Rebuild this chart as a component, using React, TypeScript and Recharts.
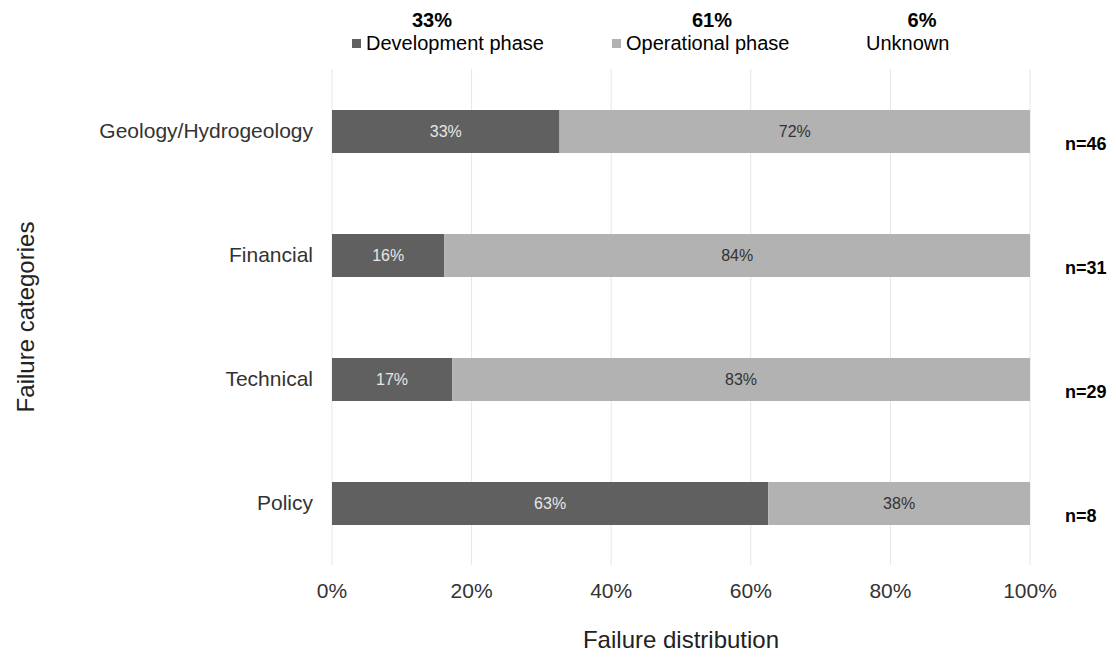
import React from "react";
import {
  BarChart,
  Bar,
  XAxis,
  YAxis,
  CartesianGrid,
  Legend,
  LabelList,
} from "recharts";

const categories = ["Geology/Hydrogeology", "Financial", "Technical", "Policy"];
const developmentValues = [32.6, 16.1, 17.2, 62.5];
const operationalValues = [67.4, 83.9, 82.8, 37.5];
const developmentLabels = ["33%", "16%", "17%", "63%"];
const operationalLabels = ["72%", "84%", "83%", "38%"];
const sampleSizes = ["n=46", "n=31", "n=29", "n=8"];
const xTicks = [0, 20, 40, 60, 80, 100];

const legendNames = ["Development phase", "Operational phase", "Unknown"];
const legendShares = ["33%", "61%", "6%"];

const DARK = "#606060";
const LIGHT = "#b2b2b2";
const FONT = "'Liberation Sans', Arial, sans-serif";
const LEGEND_H = 60;

const data = categories.map((c, i) => ({
  category: c,
  dev: developmentValues[i],
  op: operationalValues[i],
}));

// legend layout (chart coords)
const legendCols = [
  { pctX: 424, rowX: 344, color: DARK },
  { pctX: 704, rowX: 604, color: LIGHT },
  { pctX: 914, rowX: 858, color: null },
];

function TopLegend() {
  return (
    <div style={{ position: "relative", width: 1100, height: LEGEND_H, fontFamily: FONT }}>
      {legendNames.map((name, i) => {
        const col = legendCols[i];
        return (
          <React.Fragment key={name}>
            <div
              style={{
                position: "absolute",
                left: col.pctX - 40,
                width: 80,
                top: 0,
                textAlign: "center",
                fontWeight: "bold",
                fontSize: 20,
                color: "#000",
                lineHeight: "24px",
              }}
            >
              {legendShares[i]}
            </div>
            <div
              style={{
                position: "absolute",
                left: col.rowX,
                top: 23,
                display: "flex",
                alignItems: "center",
                fontSize: 20,
                color: "#000",
                lineHeight: "24px",
                whiteSpace: "nowrap",
              }}
            >
              {col.color && (
                <span
                  style={{
                    display: "inline-block",
                    width: 9,
                    height: 9,
                    background: col.color,
                    marginRight: 5,
                  }}
                />
              )}
              {name}
            </div>
          </React.Fragment>
        );
      })}
    </div>
  );
}

const makeInnerLabel = (labels: string[], fill: string) => (props: any) => {
  const { x, y, width, height, index } = props;
  return (
    <text
      x={x + width / 2}
      y={y + height / 2}
      textAnchor="middle"
      dominantBaseline="central"
      fontSize={16}
      fontFamily={FONT}
      fill={fill}
    >
      {labels[index]}
    </text>
  );
};

const SampleLabel = (props: any) => {
  const { x, y, width, height, index } = props;
  return (
    <text
      x={x + width + 35}
      y={y + height / 2 + 12}
      textAnchor="start"
      dominantBaseline="central"
      fontSize={18}
      fontWeight="bold"
      fontFamily={FONT}
      fill="#000"
    >
      {sampleSizes[index]}
    </text>
  );
};

const YTitle = (props: any) => {
  const { viewBox } = props;
  const cx = viewBox.x + 17;
  const cy = viewBox.y + viewBox.height / 2;
  return (
    <text
      x={cx}
      y={cy}
      transform={`rotate(-90, ${cx}, ${cy})`}
      textAnchor="middle"
      dominantBaseline="central"
      fontSize={24}
      fontFamily={FONT}
      fill="#222"
    >
      Failure categories
    </text>
  );
};

const XTitle = (props: any) => {
  const { viewBox } = props;
  return (
    <text
      x={viewBox.x + viewBox.width / 2}
      y={viewBox.y + 74}
      textAnchor="middle"
      dominantBaseline="central"
      fontSize={24}
      fontFamily={FONT}
      fill="#222"
    >
      Failure distribution
    </text>
  );
};

export default function App() {
  return (
    <div style={{ width: 1100, height: 643, fontFamily: FONT }}>
      <BarChart
        width={1100}
        height={643}
        data={data}
        layout="vertical"
        margin={{ top: 61 - LEGEND_H, right: 78, bottom: 0, left: 0 }}
        barSize={43}
      >
        <CartesianGrid horizontal={false} stroke="#e6e6e6" />
        <XAxis
          type="number"
          domain={[0, 100]}
          ticks={xTicks}
          tickFormatter={(v: number) => `${v}%`}
          axisLine={false}
          tickLine={false}
          tickSize={0}
          tickMargin={18}
          height={86}
          tick={{ fontSize: 21, fill: "#333", fontFamily: FONT }}
          label={<XTitle />}
        />
        <YAxis
          type="category"
          dataKey="category"
          width={324}
          axisLine={false}
          tickLine={false}
          tickSize={0}
          tickMargin={19}
          tick={{ fontSize: 21, fill: "#333", fontFamily: FONT }}
          label={<YTitle />}
        />
        <Legend
          verticalAlign="top"
          content={() => <TopLegend />}
          wrapperStyle={{ top: 0, left: 0, width: 1100 }}
        />
        <Bar dataKey="dev" stackId="a" fill={DARK} isAnimationActive={false}>
          <LabelList content={makeInnerLabel(developmentLabels, "#e6e6e6")} />
        </Bar>
        <Bar dataKey="op" stackId="a" fill={LIGHT} isAnimationActive={false}>
          <LabelList content={makeInnerLabel(operationalLabels, "#333")} />
          <LabelList content={SampleLabel} />
        </Bar>
      </BarChart>
    </div>
  );
}
